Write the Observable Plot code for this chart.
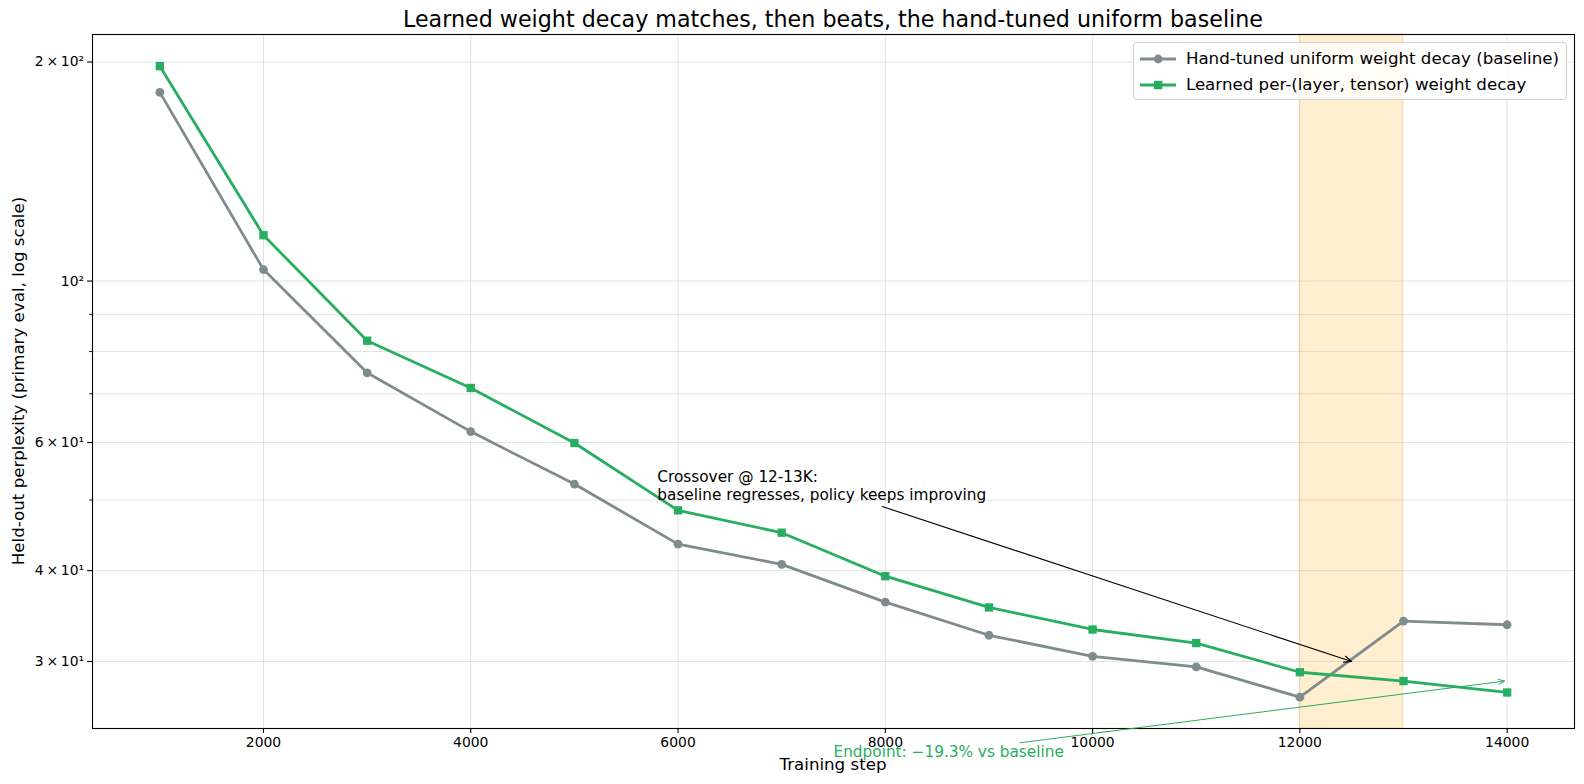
<!DOCTYPE html>
<html>
<head>
<meta charset="utf-8">
<script src="https://cdn.jsdelivr.net/npm/d3@7"></script>
<script src="https://cdn.jsdelivr.net/npm/@observablehq/plot@0.6"></script>
<style>
  html, body { margin: 0; padding: 0; background: #fff; overflow: hidden; }
  #wrap { position: relative; width: 1584px; height: 784px; overflow: hidden; font-family: "DejaVu Sans", sans-serif; color: #000; }
  #wrap > svg { position: absolute; left: 0; top: 0; max-width: none !important; }
  .title { position: absolute; left: 92px; width: 1482px; top: 6px; text-align: center; font-size: 22.2px; line-height: 26px; white-space: nowrap; }
  .xlabel { position: absolute; left: 92px; width: 1482px; top: 754.5px; text-align: center; font-size: 16.67px; line-height: 20px; }
  .ylabel { position: absolute; left: 18.5px; top: 381px; width: 0; height: 0; }
  .ylabel span { position: absolute; left: 0; top: 0; transform: translate(-50%, -50%) rotate(-90deg); font-size: 16.67px; line-height: 20px; white-space: nowrap; }
  .legend { position: absolute; left: 1133px; top: 42px; width: 434px; height: 58px; border: 1px solid #d0d0d0; border-radius: 4px; background: rgba(255,255,255,0.8); box-sizing: border-box; }
  .legend .row { position: absolute; left: 0; height: 24px; display: flex; align-items: center; }
  .legend .row span { font-size: 16.67px; white-space: nowrap; margin-left: 10px; }
  .legend .row svg { margin-left: 5.5px; }
</style>
</head>
<body>
<div id="wrap"></div>
<script>
// ---- data ----
const steps    = [1000, 2000, 3000, 4000, 5000, 6000, 7000, 8000, 9000, 10000, 11000, 12000, 13000, 14000];
const baseline = [181.7, 103.7, 74.8, 62.1, 52.6, 43.5, 40.8, 36.2, 32.6, 30.5, 29.5, 26.8, 34.1, 33.7];
const learned  = [197.4, 115.6, 82.8, 71.3, 59.9, 48.4, 45.1, 39.3, 35.6, 33.2, 31.8, 29.0, 28.2, 27.2];
const seriesNames = ["Hand-tuned uniform weight decay (baseline)", "Learned per-(layer, tensor) weight decay"];
const seriesColors = ["#7f8c8d", "#27ae60"];
const xTicks = [2000, 4000, 6000, 8000, 10000, 12000, 14000];
const yMajorTicks = [30, 40, 60, 100, 200];
const yMajorLabels = ["3\u2009×\u200910¹", "4\u2009×\u200910¹", "6\u2009×\u200910¹", "10²", "2\u2009×\u200910²"];
const yMinorTicks = [50, 70, 80, 90];
const spanX = [12000, 13000];
const crossoverText = "Crossover @ 12-13K:\nbaseline regresses, policy keeps improving";
const crossoverTextPos = [5800, 50];
const crossoverArrow = [7970, 49.0, 12500, 30];
const endpointText = "Endpoint: \u221219.3% vs baseline";
const endpointTextPos = [7500, 22.5];
const endpointArrow = [9300, 23.2, 13975, 28.2];

const rows = [];
steps.forEach((s, i) => {
  rows.push({step: s, value: baseline[i], series: seriesNames[0]});
});
steps.forEach((s, i) => {
  rows.push({step: s, value: learned[i], series: seriesNames[1]});
});
const baseRows = rows.filter(d => d.series === seriesNames[0]);
const learnRows = rows.filter(d => d.series === seriesNames[1]);
const labelMap = new Map(yMajorTicks.map((t, i) => [t, yMajorLabels[i]]));

const chart = Plot.plot({
  width: 1584,
  height: 784,
  marginLeft: 92,
  marginRight: 10,
  marginTop: 34,
  marginBottom: 56,
  style: { fontFamily: "DejaVu Sans, sans-serif", background: "transparent", maxWidth: "none" },
  x: { domain: [350, 14650] },
  y: { type: "log", domain: [24.27, 218.2] },
  marks: [
    Plot.rect([spanX], { x1: d => d[0], x2: d => d[1], fill: "#ffa500", fillOpacity: 0.19, stroke: "#f0a030", strokeOpacity: 0.25, strokeWidth: 1.2 }),
    Plot.gridX(xTicks, { stroke: "#b0b0b0", strokeOpacity: 0.35, strokeWidth: 1 }),
    Plot.gridY([...yMajorTicks, ...yMinorTicks], { stroke: "#b0b0b0", strokeOpacity: 0.35, strokeWidth: 1 }),
    Plot.axisX(xTicks, { tickSize: 4.9, tickPadding: 4, fontSize: 13.9, tickFormat: d => String(d), label: null, strokeWidth: 1.1 }),
    Plot.axisY(yMajorTicks, { tickSize: 4.9, tickPadding: 3.5, fontSize: 13.9, tickFormat: d => labelMap.get(d), label: null, strokeWidth: 1.1 }),
    Plot.axisY(yMinorTicks, { tickSize: 2.8, tickFormat: () => "", label: null, strokeWidth: 0.9 }),
    Plot.line(baseRows, { x: "step", y: "value", stroke: seriesColors[0], strokeWidth: 2.8 }),
    Plot.dot(baseRows, { x: "step", y: "value", fill: seriesColors[0], r: 4.4, symbol: "circle" }),
    Plot.line(learnRows, { x: "step", y: "value", stroke: seriesColors[1], strokeWidth: 2.8 }),
    Plot.dot(learnRows, { x: "step", y: "value", fill: seriesColors[1], r: 4.7, symbol: "square" }),
    Plot.frame({ stroke: "black", strokeWidth: 1.1 }),
    Plot.arrow([crossoverArrow], { x1: d => d[0], y1: d => d[1], x2: d => d[2], y2: d => d[3], stroke: "black", strokeWidth: 1.1, headLength: 11, headAngle: 45 }),
    Plot.text([crossoverText], { x: () => crossoverTextPos[0], y: () => crossoverTextPos[1], text: d => d, textAnchor: "start", lineAnchor: "bottom", fontSize: 15.3, lineHeight: 1.17, fill: "black" }),
    Plot.arrow([endpointArrow], { x1: d => d[0], y1: d => d[1], x2: d => d[2], y2: d => d[3], stroke: seriesColors[1], strokeWidth: 1, headLength: 10, headAngle: 45 }),
    Plot.text([endpointText], { x: () => endpointTextPos[0], y: () => endpointTextPos[1], text: d => d, textAnchor: "start", fontSize: 15.3, fill: seriesColors[1] })
  ]
});

const wrap = document.getElementById("wrap");
wrap.appendChild(chart);

const title = document.createElement("div");
title.className = "title";
title.textContent = "Learned weight decay matches, then beats, the hand-tuned uniform baseline";
wrap.appendChild(title);

const xl = document.createElement("div");
xl.className = "xlabel";
xl.textContent = "Training step";
wrap.appendChild(xl);

const yl = document.createElement("div");
yl.className = "ylabel";
yl.innerHTML = "<span>Held-out perplexity (primary eval, log scale)</span>";
wrap.appendChild(yl);

// legend
const leg = document.createElement("div");
leg.className = "legend";
seriesNames.forEach((name, i) => {
  const row = document.createElement("div");
  row.className = "row";
  row.style.top = (i === 0 ? 3.5 : 29.7) + "px";
  const marker = i === 0
    ? `<circle cx="18.2" cy="12" r="4.4" fill="${seriesColors[i]}"/>`
    : `<rect x="14" y="7.8" width="8.4" height="8.4" fill="${seriesColors[i]}"/>`;
  row.innerHTML = `<svg width="36.4" height="24"><line x1="0" x2="36.4" y1="12" y2="12" stroke="${seriesColors[i]}" stroke-width="2.8"/>${marker}</svg><span>${name}</span>`;
  leg.appendChild(row);
});
wrap.appendChild(leg);
</script>
</body>
</html>
